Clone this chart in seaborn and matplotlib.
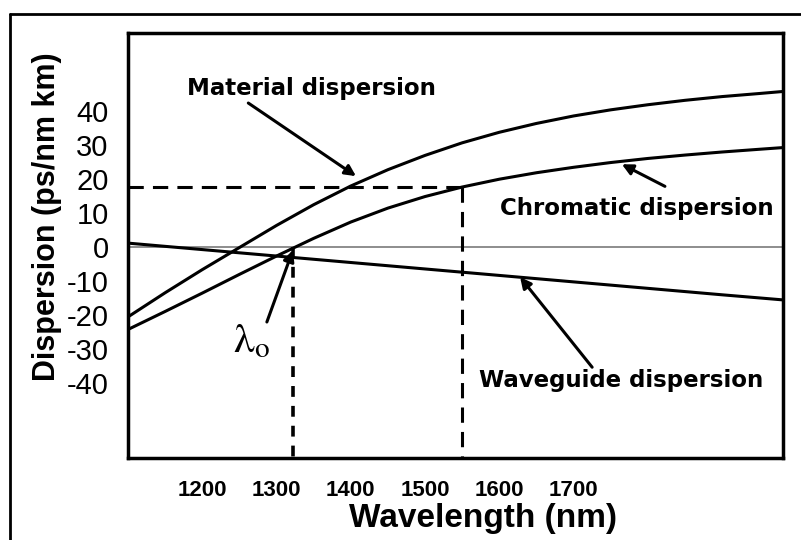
import numpy as np
import pandas as pd
import seaborn as sns
import matplotlib
matplotlib.use("Agg")
import matplotlib.pyplot as plt
from matplotlib.lines import Line2D

# ---------------- data ----------------
material_nm = [1100, 1150, 1200, 1250, 1300, 1350, 1400, 1450, 1500, 1550,
               1600, 1650, 1700, 1750, 1800, 1850, 1900, 1950, 1982]
material_disp = [-20.5, -13.4, -6.6, -0.1, 6.4, 12.5, 18.0, 22.8, 27.0, 30.7,
                 33.8, 36.4, 38.6, 40.4, 41.9, 43.2, 44.3, 45.2, 45.8]

chromatic_nm = [1100, 1150, 1200, 1250, 1300, 1350, 1400, 1450, 1500, 1550,
                1600, 1650, 1700, 1750, 1800, 1850, 1900, 1950, 1982]
chromatic_disp = [-24.2, -18.9, -13.5, -8.0, -2.6, 2.6, 7.4, 11.5, 14.9, 17.7,
                  20.0, 21.9, 23.5, 24.9, 26.1, 27.1, 28.0, 28.8, 29.3]

waveguide_nm = [1100, 1300, 1500, 1700, 1900, 1982]
waveguide_disp = [1.2, -2.6, -6.4, -10.2, -14.0, -15.5]

x_ticks = [1200, 1300, 1400, 1500, 1600, 1700, 1800, 1900]
x_tick_labels = ["1200", "1300", "1400", "1500", "1600", "1700", "", ""]
y_ticks = [-50, -40, -30, -20, -10, 0, 10, 20, 30, 40, 50]
y_tick_labels = ["", "-40", "-30", "-20", "-10", "0", "10", "20", "30", "40", ""]

lambda0 = 1322          # zero-dispersion wavelength
op_wavelength = 1550    # operating wavelength
op_dispersion = 17.6    # dispersion at operating wavelength

curve_names = ["Material dispersion", "Chromatic dispersion", "Waveguide dispersion"]

df = pd.concat([
    pd.DataFrame({"wavelength": material_nm, "dispersion": material_disp, "curve": curve_names[0]}),
    pd.DataFrame({"wavelength": chromatic_nm, "dispersion": chromatic_disp, "curve": curve_names[1]}),
    pd.DataFrame({"wavelength": waveguide_nm, "dispersion": waveguide_disp, "curve": curve_names[2]}),
], ignore_index=True)

# ---------------- style ----------------
sns.set_style("white")
plt.rcParams["font.family"] = ["Liberation Sans", "DejaVu Sans"]
plt.rcParams["mathtext.fontset"] = "stix"
for k in ["text.color", "axes.labelcolor", "xtick.color", "ytick.color", "axes.edgecolor"]:
    plt.rcParams[k] = "black"

fig = plt.figure(figsize=(8.01, 5.40), dpi=100)
ax = fig.add_axes([128 / 801, 82 / 540, 655 / 801, 425 / 540])

ax.set_xlim(1100, 1982)
ax.set_ylim(-62, 63)

# zero line
ax.axhline(0, color="#7a7a7a", lw=1.2, zorder=1)

sns.lineplot(data=df, x="wavelength", y="dispersion", hue="curve",
             palette={n: "black" for n in curve_names}, linewidth=2.2,
             estimator=None, legend=False, ax=ax, zorder=3)

# dashed reference lines
dash = (0, (5, 3))
ax.plot([1100, op_wavelength], [op_dispersion, op_dispersion], color="black", lw=2.2, ls=dash, zorder=2)
ax.plot([op_wavelength, op_wavelength], [op_dispersion, -62], color="black", lw=2.2, ls=dash, zorder=2)
ax.plot([lambda0, lambda0], [0, -62], color="black", lw=2.6, ls=(0, (3, 2.5)), zorder=2)

# spines
for s in ax.spines.values():
    s.set_linewidth(2.5)
    s.set_color("black")

# ticks
ax.set_xticks(x_ticks)
ax.set_xticklabels(x_tick_labels, fontsize=16, fontweight="bold", family="Liberation Sans")
ax.set_yticks(y_ticks)
ax.set_yticklabels(y_tick_labels, fontsize=21, family="Liberation Sans")
ax.tick_params(axis="x", direction="in", length=14, width=2, pad=16, colors="black")
ax.tick_params(axis="y", direction="in", length=12, width=2, pad=14, colors="black")
ax.yaxis.get_major_ticks()[5].tick1line.set_visible(False)

ax.set_xlabel("Wavelength (nm)", fontsize=24, fontweight="bold", color="black")
ax.set_ylabel("Dispersion (ps/nm km)", fontsize=22, fontweight="bold", color="black")
ax.xaxis.set_label_coords(0.542, -0.106)
ax.yaxis.set_label_coords(-0.100, 0.567)

# annotations
txt_kw = dict(fontsize=16.5, fontweight="bold", family="DejaVu Sans", ha="center", va="center",
              color="black")
arr_kw = dict(arrowstyle="-|>", color="black", lw=2.2, mutation_scale=16, shrinkA=0, shrinkB=0)

ax.text(1347, 46.6, "Material dispersion", **txt_kw)
ax.annotate("", xy=(1407, 20.9), xytext=(1262, 42.4), arrowprops=arr_kw)

ax.text(1785, 11.5, "Chromatic dispersion", **txt_kw)
ax.annotate("", xy=(1765, 24.4), xytext=(1823, 17.9), arrowprops=arr_kw)

ax.text(1764, -39.1, "Waveguide dispersion", **txt_kw)
ax.annotate("", xy=(1628, -8.8), xytext=(1725, -35.3), arrowprops=arr_kw)

ax.text(1267, -27.6, r"$\mathrm{\lambda_o}$", fontsize=30, ha="center", va="center", color="black")
ax.annotate("", xy=(1322, -0.9), xytext=(1287, -22), arrowprops=arr_kw)

# outer frame (top and left border of the scanned figure)
fig.add_artist(Line2D([10 / 801, 1.0], [1 - 14 / 540, 1 - 14 / 540], transform=fig.transFigure,
                      color="black", lw=2))
fig.add_artist(Line2D([10 / 801, 10 / 801], [0.0, 1 - 14 / 540], transform=fig.transFigure,
                      color="black", lw=2))

fig.savefig("out.png", dpi=100, facecolor="white")
